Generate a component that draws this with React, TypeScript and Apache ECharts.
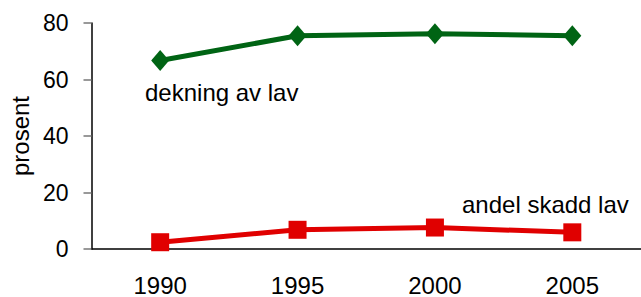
import React, { useEffect, useRef } from "react";
import * as echarts from "echarts";

const years = ["1990", "1995", "2000", "2005"];
const dekning = [66.7, 75.5, 76.2, 75.5];
const skadd = [2.4, 6.8, 7.6, 5.9];
const yTicks = { min: 0, max: 80, interval: 20 };

const FONT = "'Liberation Sans', Arial, sans-serif";

export default function App() {
  const ref = useRef<HTMLDivElement>(null);
  useEffect(() => {
    if (!ref.current) return;
    const chart = echarts.init(ref.current, null, { renderer: "svg" });
    chart.setOption({
      animation: false,
      textStyle: { fontFamily: FONT },
      grid: { left: 91, top: 23, height: 228, width: 556 },
      xAxis: {
        type: "category",
        data: years,
        boundaryGap: true,
        axisLine: { lineStyle: { color: "#000", width: 1.5 } },
        axisTick: { length: 7, lineStyle: { color: "#777", width: 1.5 } },
        axisLabel: { color: "#000", fontSize: 24, fontFamily: FONT, margin: 24 },
      },
      yAxis: {
        type: "value",
        min: yTicks.min,
        max: yTicks.max,
        interval: yTicks.interval,
        name: "prosent",
        nameLocation: "middle",
        nameGap: 57,
        nameTextStyle: { color: "#000", fontSize: 24, fontFamily: FONT },
        splitLine: { show: false },
        axisLine: { show: true, lineStyle: { color: "#000", width: 1.5 } },
        axisTick: { show: true, length: 8, lineStyle: { color: "#777", width: 1.5 } },
        axisLabel: { color: "#000", fontSize: 23, fontFamily: FONT, margin: 23 },
      },
      series: [
        {
          type: "line",
          data: dekning,
          symbol: "diamond",
          symbolSize: [18, 21],
          lineStyle: { color: "#006414", width: 5 },
          itemStyle: { color: "#006414" },
        },
        {
          type: "line",
          data: skadd,
          symbol: "rect",
          symbolSize: 18,
          lineStyle: { color: "#e00000", width: 5 },
          itemStyle: { color: "#e00000" },
        },
      ],
      graphic: [
        {
          type: "text",
          left: 145,
          top: 80,
          style: { text: "dekning av lav", fontSize: 24, fontFamily: FONT, fill: "#000" },
        },
        {
          type: "text",
          left: 462,
          top: 192,
          style: { text: "andel skadd lav", fontSize: 24, fontFamily: FONT, fill: "#000" },
        },
      ],
    });
    return () => chart.dispose();
  }, []);
  return <div ref={ref} style={{ width: 641, height: 297, position: "absolute", left: 0, top: 0 }} />;
}
